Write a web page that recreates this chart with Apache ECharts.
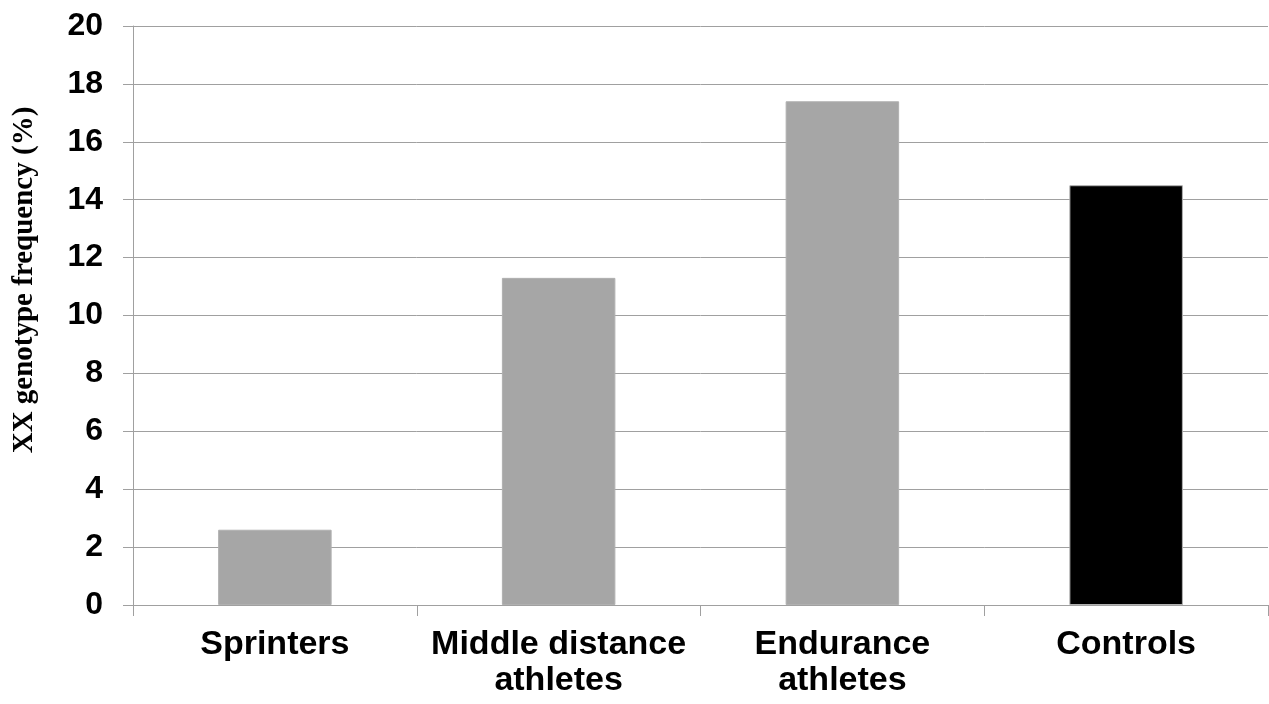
<!DOCTYPE html>
<html>
<head>
<meta charset="utf-8">
<script src="https://cdn.jsdelivr.net/npm/echarts@6/dist/echarts.min.js"></script>
<style>
html,body{margin:0;padding:0;background:#fff;}
#chart{width:1269px;height:704px;}
</style>
</head>
<body>
<div id="chart"></div>
<script>
const categories = ['Sprinters', 'Middle distance\nathletes', 'Endurance\nathletes', 'Controls'];
const values = [2.6, 11.3, 17.4, 14.5];
const barColors = ['#a6a6a6', '#a6a6a6', '#a6a6a6', '#000000'];
const yTitle = 'XX genotype frequency (%)';

const chart = echarts.init(document.getElementById('chart'));
chart.setOption({
  animation: false,
  backgroundColor: '#ffffff',
  grid: {left: 133, right: 1, top: 26, bottom: 99, containLabel: false},
  xAxis: {
    type: 'category',
    data: categories,
    axisLine: {lineStyle: {color: '#a0a0a0', width: 1}},
    axisTick: {show: true, length: 11, lineStyle: {color: '#a0a0a0'}, alignWithLabel: false},
    axisLabel: {
      color: '#000', fontFamily: 'Liberation Sans, Arial, sans-serif', fontWeight: 'bold',
      fontSize: 34, lineHeight: 36, margin: 22, interval: 0
    }
  },
  yAxis: {
    type: 'value', min: 0, max: 20, interval: 2,
    axisLine: {show: true, lineStyle: {color: '#a0a0a0', width: 1}},
    axisTick: {show: true, length: 10, lineStyle: {color: '#a0a0a0'}},
    splitLine: {show: true, lineStyle: {color: '#a0a0a0', width: 1}},
    axisLabel: {
      color: '#000', fontFamily: 'Liberation Sans, Arial, sans-serif', fontWeight: 'bold',
      fontSize: 32, margin: 30
    }
  },
  graphic: [{
    type: 'text',
    x: 25, y: 280,
    rotation: Math.PI / 2,
    style: {
      text: yTitle,
      fill: '#000',
      font: 'bold 29px "Liberation Serif", "Times New Roman", serif',
      textAlign: 'center',
      textVerticalAlign: 'middle'
    }
  }],
  series: [{
    type: 'bar',
    data: values.map((v, i) => ({value: v, itemStyle: {color: barColors[i]}})),
    barWidth: '40%',
    itemStyle: {borderColor: '#b0b0b0', borderWidth: 1}
  }]
});
</script>
</body>
</html>
